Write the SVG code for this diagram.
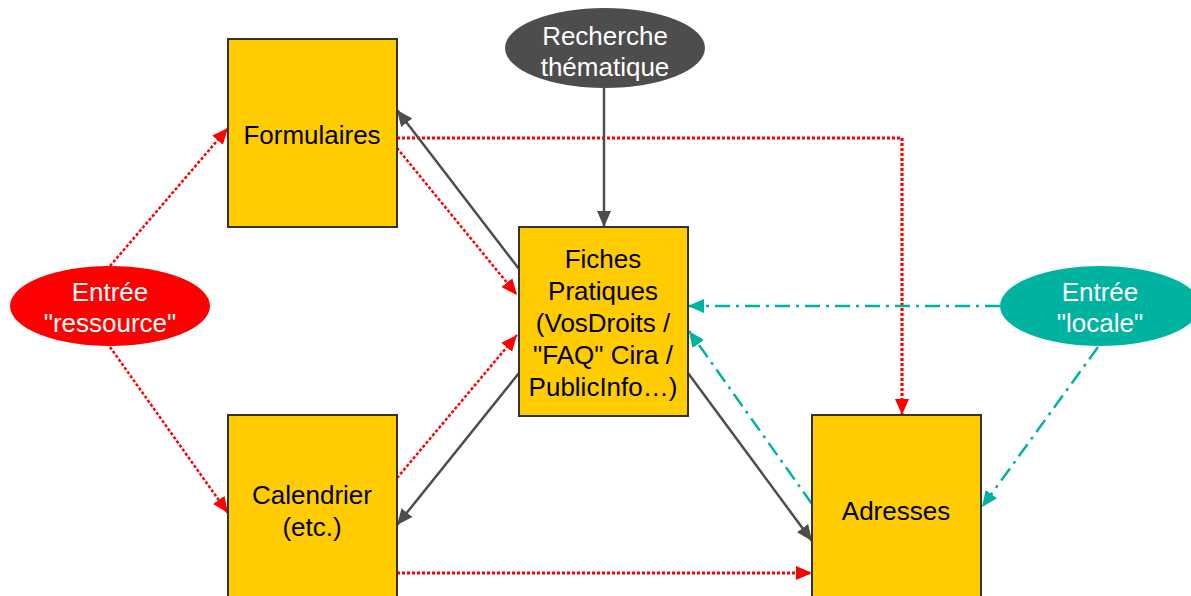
<svg xmlns="http://www.w3.org/2000/svg" width="1191" height="596" viewBox="0 0 1191 596">
<style>
.box{fill:#FFCC00;stroke:#333;stroke-width:2}
.t{font-family:"Liberation Sans",Arial,sans-serif;font-size:26px;text-anchor:middle;fill:#000}
.w{fill:#fff}
.red{fill:none;stroke:#FF0000;stroke-width:2.5;stroke-dasharray:3 2}
.thick{stroke-width:3.2}
.dark{fill:none;stroke:#4D4D4D;stroke-width:2.5}
.teal{fill:none;stroke:#00B3A1;stroke-width:2.5;stroke-dasharray:15 6 3 6}
</style>
<defs>
<marker id="ar" markerUnits="userSpaceOnUse" markerWidth="18" markerHeight="16" refX="16" refY="7" orient="auto" viewBox="0 0 18 14"><path d="M0,0 L16,7 L0,14 z" fill="#FF0000"/></marker>
<marker id="ad" markerUnits="userSpaceOnUse" markerWidth="18" markerHeight="16" refX="16" refY="7" orient="auto" viewBox="0 0 18 14"><path d="M0,0 L16,7 L0,14 z" fill="#4D4D4D"/></marker>
<marker id="at" markerUnits="userSpaceOnUse" markerWidth="18" markerHeight="16" refX="16" refY="7" orient="auto" viewBox="0 0 18 14"><path d="M0,0 L16,7 L0,14 z" fill="#00B3A1"/></marker>
</defs>
<rect width="1191" height="596" fill="#fff"/>
<g id="connectors">
<path class="red" d="M110,266 L228,128" marker-end="url(#ar)"/>
<path class="red" d="M110,347 L228,513" marker-end="url(#ar)"/>
<path class="red thick" d="M397,138 L902,138 L902,415" marker-end="url(#ar)"/>
<path class="red" d="M397,148 L517,295" marker-end="url(#ar)"/>
<path class="red" d="M397,478 L517,335" marker-end="url(#ar)"/>
<path class="red thick" d="M397,573 L812,573" marker-end="url(#ar)"/>
<path class="dark" d="M519,269 L397,110" marker-end="url(#ad)"/>
<path class="dark" d="M519,373 L397,525" marker-end="url(#ad)"/>
<path class="dark" d="M604,88 L604,227" marker-end="url(#ad)"/>
<path class="dark" d="M688,373 L812,541" marker-end="url(#ad)"/>
<path class="teal thick" d="M1000,306 L688,306" marker-end="url(#at)"/>
<path class="teal" d="M812,504 L689,331" marker-end="url(#at)"/>
<path class="teal" d="M1098,347 L982,507" marker-end="url(#at)"/>
</g>
<g id="formulaires"><rect class="box" x="228" y="39" width="169" height="188"/><text class="t" x="312" y="144">Formulaires</text></g>
<g id="calendrier"><rect class="box" x="228" y="415" width="169" height="200"/><text class="t" x="312" y="504">Calendrier</text><text class="t" x="312" y="536">(etc.)</text></g>
<g id="fiches"><rect class="box" x="519" y="227" width="169" height="189"/>
<text class="t" x="603" y="268">Fiches</text>
<text class="t" x="603" y="300">Pratiques</text>
<text class="t" x="603" y="332">(VosDroits /</text>
<text class="t" x="603" y="364">"FAQ" Cira /</text>
<text class="t" x="603" y="396">PublicInfo…)</text></g>
<g id="adresses"><rect class="box" x="812" y="415" width="169" height="200"/><text class="t" x="896" y="520">Adresses</text></g>
<g id="recherche"><ellipse cx="605" cy="48" rx="100" ry="40" fill="#4D4D4D"/><text class="t w" x="605" y="45">Recherche</text><text class="t w" x="605" y="76">thématique</text></g>
<g id="ressource"><ellipse cx="110" cy="306" rx="100" ry="40" fill="#FF0000"/><text class="t w" x="110" y="301">Entrée</text><text class="t w" x="110" y="332">"ressource"</text></g>
<g id="locale"><ellipse cx="1100" cy="306" rx="100" ry="40" fill="#00B3A1"/><text class="t w" x="1100" y="301">Entrée</text><text class="t w" x="1100" y="332">"locale"</text></g>
</svg>
